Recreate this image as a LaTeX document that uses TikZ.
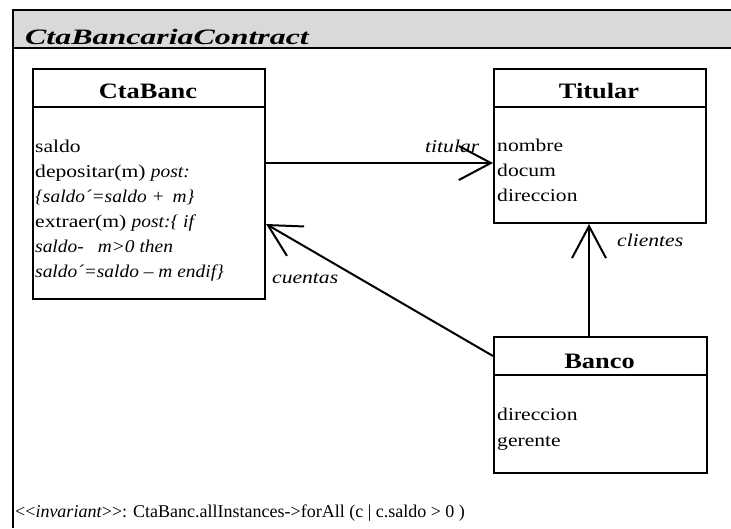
\documentclass[tikz,border=0pt]{standalone}
\usepackage{fontspec}
\setmainfont{Liberation Serif}[FakeStretch=1.2]
\newfontfamily\titlefont{Liberation Serif}[FakeStretch=1.45]
\newfontfamily\plainfont{Liberation Serif}
\newfontfamily\bodyitfont{Liberation Serif}[FakeStretch=1.08]
\newcommand{\bit}[1]{{\bodyitfont\itshape #1}}
\usetikzlibrary{arrows.meta}
\definecolor{barcol}{HTML}{D9D9D9}
\begin{document}
\begin{tikzpicture}[x=1pt,y=-1pt,
  frame/.style={line width=2.6pt},
  classbox/.style={draw, line width=2pt, inner sep=0pt, anchor=north west},
  hdr/.style={font=\fontsize{22}{26}\selectfont\bfseries, anchor=base, inner sep=0pt},
  txt/.style={font=\fontsize{18}{22}\selectfont, anchor=base west, inner sep=0pt},
  lbl/.style={font=\fontsize{18}{22}\selectfont\itshape, anchor=base west, inner sep=0pt},
  sepline/.style={line width=2pt},
  conn/.style={line width=2pt, -{Straight Barb[length=32pt,width=34pt]}}]
\useasboundingbox (0,0) rectangle (731,528);
% package frame
\fill[barcol] (13,10) rectangle (731,48);
\draw[frame] (731,10) -- (13,10) -- (13,528);
\draw[frame] (13,48) -- (731,48);
\node[anchor=base west, inner sep=0pt, font=\titlefont\fontsize{22}{26}\selectfont\bfseries\itshape] (title) at (25,44) {CtaBancariaContract};
% classes
\node[classbox, minimum width=232pt, minimum height=230pt] (cta) at (32,68) {};
\node[classbox, minimum width=212pt, minimum height=154pt] (tit) at (493,68) {};
\node[classbox, minimum width=213pt, minimum height=136pt] (ban) at (493,336) {};
\draw[sepline] (cta.west |- 0,107) -- (cta.east |- 0,107);
\draw[sepline] (tit.west |- 0,107) -- (tit.east |- 0,107);
\draw[sepline] (ban.west |- 0,375) -- (ban.east |- 0,375);
\node[hdr] (ctaname) at (148,98) {CtaBanc};
\node[hdr] (titname) at (599,98) {Titular};
\node[hdr] (banname) at (599.5,368) {Banco};
% CtaBanc body
\node[txt] (c1) at (35,152) {saldo};
\node[txt] (c2) at (35,177) {depositar(m) \bit{post:}};
\node[txt] (c3) at (35,202) {\bit{\{saldo´=saldo +\hspace*{3pt} m\}}};
\node[txt] (c4) at (35,227) {extraer(m) \bit{post:\{ if}};
\node[txt] (c5) at (35,252) {\bit{saldo-\hspace*{14pt}m>0 then}};
\node[txt] (c6) at (35,277) {\bit{saldo´=saldo – m endif\}}};
% Titular body
\node[txt] (t1) at (497,151) {nombre};
\node[txt] (t2) at (497,176) {docum};
\node[txt] (t3) at (497,201) {direccion};
% Banco body
\node[txt] (b1) at (497,420) {direccion};
\node[txt] (b2) at (497,446) {gerente};
% connectors
\draw[conn] (cta.east |- 0,163) -- (tit.west |- 0,163);
\draw[conn] (ban.west |- 0,356) -- (cta.east |- 0,224);
\draw[conn] (589,0 |- ban.north) -- (589,0 |- tit.south);
% role labels
\node[lbl] (ltit) at (425,152) {titular};
\node[lbl] (lcli) at (617,246) {clientes};
\node[lbl] (lcue) at (272,283) {cuentas};
% invariant
\node[anchor=base west, inner sep=0pt, font=\plainfont\fontsize{18}{22}\selectfont] (inv) at (15,517) {<<\textit{invariant}>>: CtaBanc.allInstances->forAll (c | c.saldo > 0 )};
\end{tikzpicture}
\end{document}
